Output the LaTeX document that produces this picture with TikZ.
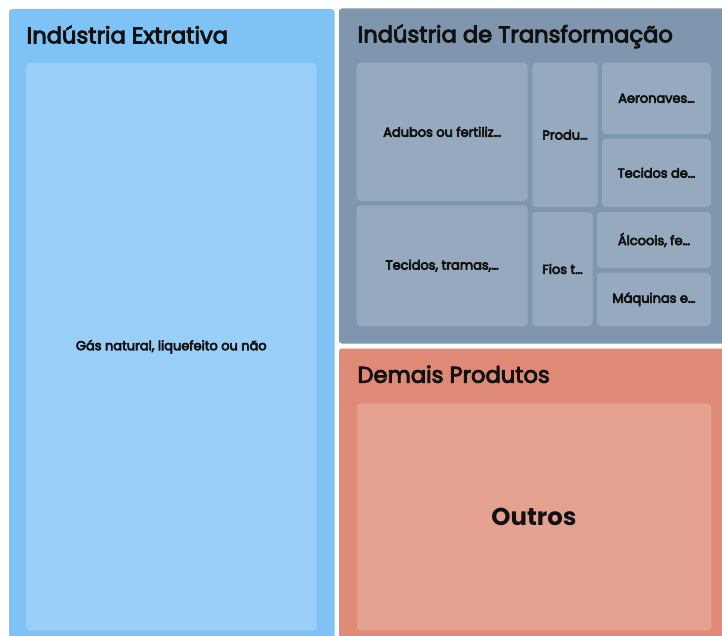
\documentclass[tikz,border=0pt]{standalone}
\usepackage{fontspec}
\setmainfont{Poppins}
\newfontfamily\ttlfont{Poppins}[FakeBold=4]
\newfontfamily\lblfont{Poppins}[FakeBold=5]
\definecolor{extOuter}{HTML}{7FC3F6}
\definecolor{extInner}{HTML}{99CFF7}
\definecolor{trOuter}{HTML}{8096AE}
\definecolor{trInner}{HTML}{97A9BE}
\definecolor{dmOuter}{HTML}{DF8A76}
\definecolor{dmInner}{HTML}{E4A190}
\definecolor{txt}{HTML}{111111}
\tikzset{
  panel/.style={rounded corners=3bp, draw=none},
  cell/.style={rounded corners=4bp, draw=none},
  ttl/.style={anchor=base west, inner sep=0pt, text=txt, font=\ttlfont\fontsize{22.7}{25}\selectfont},
  lbl/.style={inner sep=0pt, text=txt, font=\lblfont\fontsize{13}{14}\selectfont},
  big/.style={inner sep=0pt, text=txt, font=\bfseries\fontsize{24.5}{28}\selectfont},
}
\begin{document}
\begin{tikzpicture}[x=1bp,y=-1bp]
\useasboundingbox (0,0) rectangle (722,636);
\clip (0,0) rectangle (722,636);
\fill[white] (0,0) rectangle (722,636);
% panels
\fill[panel, extOuter] (9,9) rectangle (334.5,650);
\fill[panel, trOuter] (339,8.5) rectangle (735,343.5);
\fill[panel, dmOuter] (339,348.5) rectangle (735,650);
% titles
\node[ttl] (t1) at (26.5,43.3) {Indústria Extrativa};
\node[ttl] (t2) at (357.5,42.3) {Indústria de Transformação};
\node[ttl] (t3) at (357.3,382.7) {Demais Produtos};
% cells
\fill[cell, extInner] (26,63) rectangle (316.7,630.7);
\node[lbl] (c1) at (171.3,346.8) {Gás natural, liquefeito ou não};

\fill[cell, trInner] (356.7,62.7) rectangle (527.7,201);
\node[lbl] (c2) at (442.2,131.8) {Adubos ou fertiliz…};
\fill[cell, trInner] (532.3,62.7) rectangle (597.7,207);
\node[lbl] (c3) at (565,134.8) {Produ…};
\fill[cell, trInner] (602,62.7) rectangle (711,134);
\node[lbl] (c4) at (656.5,98.3) {Aeronaves…};
\fill[cell, trInner] (602,138.7) rectangle (711,207);
\node[lbl] (c5) at (656.5,172.8) {Tecidos de…};
\fill[cell, trInner] (356.7,205.3) rectangle (527.7,326);
\node[lbl] (c6) at (442.2,265.6) {Tecidos, tramas,…};
\fill[cell, trInner] (532.3,212) rectangle (592.7,326);
\node[lbl] (c7) at (562.5,269) {Fios t…};
\fill[cell, trInner] (597,212) rectangle (711,268);
\node[lbl] (c8) at (654,240) {Álcoois, fe…};
\fill[cell, trInner] (597,272.7) rectangle (711,326);
\node[lbl] (c9) at (654,299.3) {Máquinas e…};

\fill[cell, dmInner] (356.8,403.3) rectangle (711.3,630.7);
\node[big] (c10) at (534,517) {Outros};
\end{tikzpicture}
\end{document}
